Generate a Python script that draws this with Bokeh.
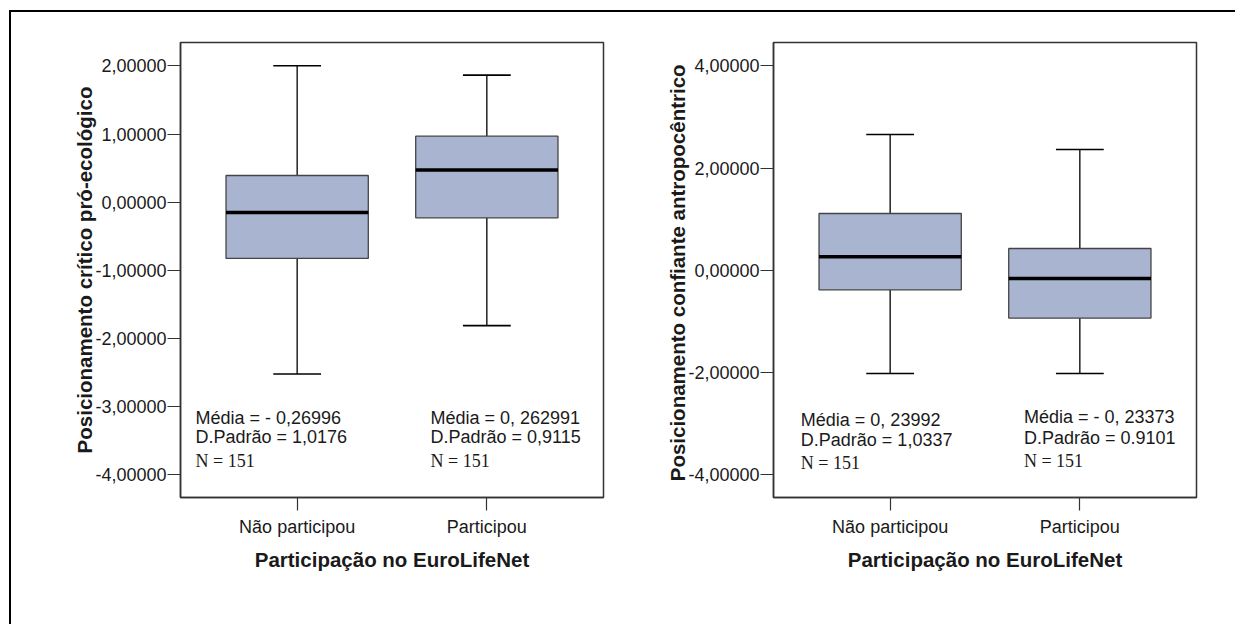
from bokeh.plotting import figure
from bokeh.layouts import row
from bokeh.models import Range1d, FixedTicker
from bokeh.embed import file_html
from bokeh.resources import INLINE
from bokeh.core.properties import value

# ---------------- data ----------------
categories = ["Não participou", "Participou"]
x_pos = [1, 2]

# Chart 1: Posicionamento crítico pró-ecológico
c1_low = [-2.52, -1.81]
c1_q1 = [-0.825, -0.229]
c1_median = [-0.151, 0.471]
c1_q3 = [0.392, 0.969]
c1_high = [2.0, 1.864]
c1_ticks = [-4, -3, -2, -1, 0, 1, 2]
c1_tick_labels = ["-4,00000", "-3,00000", "-2,00000", "-1,00000", "0,00000", "1,00000", "2,00000"]
c1_mean_text = ["Média = - 0,26996", "Média = 0, 262991"]
c1_sd_text = ["D.Padrão = 1,0176", "D.Padrão = 0,9115"]
c1_n_text = ["N = 151", "N = 151"]
c1_ylabel = "Posicionamento crítico pró-ecológico"

# Chart 2: Posicionamento confiante antropocêntrico
c2_low = [-2.022, -2.022]
c2_q1 = [-0.383, -0.937]
c2_median = [0.264, -0.161]
c2_q3 = [1.111, 0.426]
c2_high = [2.658, 2.365]
c2_ticks = [-4, -2, 0, 2, 4]
c2_tick_labels = ["-4,00000", "-2,00000", "0,00000", "2,00000", "4,00000"]
c2_mean_text = ["Média = 0, 23992", "Média = - 0, 23373"]
c2_sd_text = ["D.Padrão = 1,0337", "D.Padrão = 0.9101"]
c2_n_text = ["N = 151", "N = 151"]
c2_ylabel = "Posicionamento confiante  antropocêntrico"

xlabel = "Participação no EuroLifeNet"

BOX_FILL = "#a9b5d0"
TEXT = "#1a1a1a"
FRAME = "#333333"


def make_chart(low, q1, med, q3, high, ticks, tick_labels, ylabel, ylabel_size, yr,
               mean_text, sd_text, n_text, text_x, text_y, width, border_left, border_right):
    p = figure(width=width, height=612, output_backend="svg", toolbar_location=None,
               x_range=Range1d(0.385, 2.615), y_range=Range1d(*yr),
               min_border_left=border_left, min_border_right=border_right,
               min_border_top=30, min_border_bottom=127)
    p.background_fill_color = "white"
    p.border_fill_color = "white"
    p.outline_line_color = FRAME
    p.outline_line_width = 1.5
    p.xgrid.grid_line_color = None
    p.ygrid.grid_line_color = None

    half = 0.375
    cap = 0.126
    # whiskers
    p.segment(x0=x_pos, y0=q3, x1=x_pos, y1=high, line_color="black", line_width=1.3)
    p.segment(x0=x_pos, y0=q1, x1=x_pos, y1=low, line_color="black", line_width=1.3)
    p.segment(x0=[x - cap for x in x_pos], y0=high, x1=[x + cap for x in x_pos], y1=high,
              line_color="black", line_width=1.6)
    p.segment(x0=[x - cap for x in x_pos], y0=low, x1=[x + cap for x in x_pos], y1=low,
              line_color="black", line_width=1.6)
    # boxes
    p.vbar(x=x_pos, width=2 * half, bottom=q1, top=q3, fill_color=BOX_FILL,
           line_color="#444444", line_width=1.3)
    # medians
    p.segment(x0=[x - half for x in x_pos], y0=med, x1=[x + half for x in x_pos], y1=med,
              line_color="black", line_width=3.5)

    # annotation text
    p.text(x=text_x, y=[text_y[0][0], text_y[1][0]], text=mean_text,
           text_font=value("Liberation Sans"), text_font_size="18px", text_color=TEXT,
           text_baseline="middle", text_align="left")
    p.text(x=text_x, y=[text_y[0][1], text_y[1][1]], text=sd_text,
           text_font=value("Liberation Sans"), text_font_size="18px", text_color=TEXT,
           text_baseline="middle", text_align="left")
    p.text(x=text_x, y=[text_y[0][2], text_y[1][2]], text=n_text,
           text_font=value("Liberation Serif"), text_font_size="18px", text_color=TEXT,
           text_baseline="middle", text_align="left")

    # axes
    for ax in (p.xaxis, p.yaxis):
        ax.axis_line_color = FRAME
        ax.axis_line_width = 1.5
        ax.major_tick_line_color = FRAME
        ax.major_tick_line_width = 1.2
        ax.major_tick_in = 0
        ax.major_tick_out = 13
        ax.minor_tick_line_color = None
        ax.major_label_text_font = "Liberation Sans"
        ax.major_label_text_color = TEXT
        ax.axis_label_text_font = "Liberation Sans"
        ax.axis_label_text_font_style = "bold"
        ax.axis_label_text_color = TEXT

    p.xaxis.ticker = FixedTicker(ticks=x_pos)
    p.xaxis.major_label_overrides = {x: c for x, c in zip(x_pos, categories)}
    p.xaxis.major_label_text_font_size = "18px"
    p.xaxis.major_label_standoff = 6
    p.xaxis.axis_label = xlabel
    p.xaxis.axis_label_text_font_size = "20.5px"
    p.xaxis.axis_label_standoff = 8

    p.yaxis.ticker = FixedTicker(ticks=ticks)
    p.yaxis.major_label_overrides = {t: l for t, l in zip(ticks, tick_labels)}
    p.yaxis.major_label_text_font_size = "18px"
    p.yaxis.major_label_standoff = 1
    p.yaxis.axis_label = ylabel
    p.yaxis.axis_label_text_font_size = ylabel_size
    p.yaxis.axis_label_standoff = -4
    return p


p1 = make_chart(c1_low, c1_q1, c1_median, c1_q3, c1_high, c1_ticks, c1_tick_labels, c1_ylabel,
                "20.5px", (-4.33, 2.342), c1_mean_text, c1_sd_text, c1_n_text,
                [0.464, 1.703], [[-3.157, -3.45, -3.793], [-3.157, -3.45, -3.793]],
                612, 169, 20)
p2 = make_chart(c2_low, c2_q1, c2_median, c2_q3, c2_high, c2_ticks, c2_tick_labels, c2_ylabel,
                "20.5px", (-4.45, 4.46), c2_mean_text, c2_sd_text, c2_n_text,
                [0.529, 1.705], [[-2.929, -3.32, -3.77], [-2.883, -3.285, -3.731]],
                612, 150, 39)

layout = row(p1, p2, spacing=0, margin=(10, 0, 0, 9),
             styles={"border-left": "2px solid black", "border-top": "2px solid black",
                     "background-color": "white"})

open("out.html", "w").write(file_html(layout, INLINE))
